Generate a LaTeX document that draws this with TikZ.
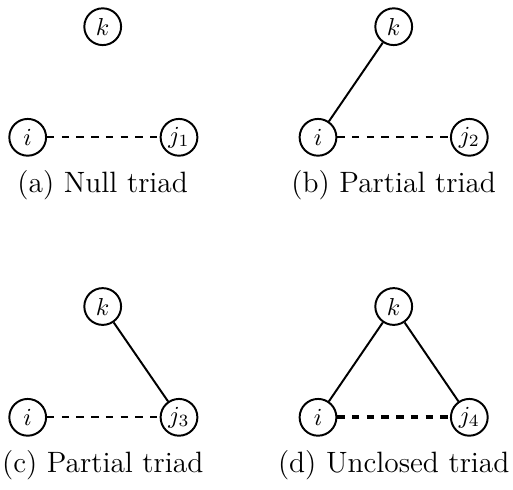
\documentclass[tikz,border=0pt]{standalone}
\begin{document}
\begin{tikzpicture}[x=0.408pt,y=-0.408pt,
  vtx/.style={circle,draw,thick,minimum size=15pt,inner sep=0pt},
  tie/.style={thick},
  weak/.style={thick,dashed},
  strongweak/.style={ultra thick,dashed},
  captxt/.style={anchor=base,inner sep=0pt,font=\fontsize{12}{14}\selectfont}]
\useasboundingbox (0,0) rectangle (513,489);
% (a)
\node[vtx] (ka) at (102.7,26.7) {$k$};
\node[vtx] (ia) at (27.7,137.3) {$i$};
\node[vtx] (ja) at (179,137.3) {$j_1$};
\draw[weak] (ia) -- (ja);
\node[captxt] (capa) at (102.7,192.5) {(a) Null triad};
% (b)
\node[vtx] (kb) at (393.7,26.7) {$k$};
\node[vtx] (ib) at (318,137.3) {$i$};
\node[vtx] (jb) at (469.3,137.3) {$j_2$};
\draw[tie] (kb) -- (ib);
\draw[weak] (ib) -- (jb);
\node[captxt] (capb) at (393.7,192.5) {(b) Partial triad};
% (c)
\node[vtx] (kc) at (102.7,306.5) {$k$};
\node[vtx] (ic) at (27.7,417.3) {$i$};
\node[vtx] (jc) at (179,417.3) {$j_3$};
\draw[tie] (kc) -- (jc);
\draw[weak] (ic) -- (jc);
\node[captxt] (capc) at (102.7,472.5) {(c) Partial triad};
% (d)
\node[vtx] (kd) at (393.7,306.5) {$k$};
\node[vtx] (id) at (318,417.3) {$i$};
\node[vtx] (jd) at (469.3,417.3) {$j_4$};
\draw[tie] (kd) -- (id);
\draw[tie] (kd) -- (jd);
\draw[strongweak] (id) -- (jd);
\node[captxt] (capd) at (393.7,472.5) {(d) Unclosed triad};
\end{tikzpicture}
\end{document}
